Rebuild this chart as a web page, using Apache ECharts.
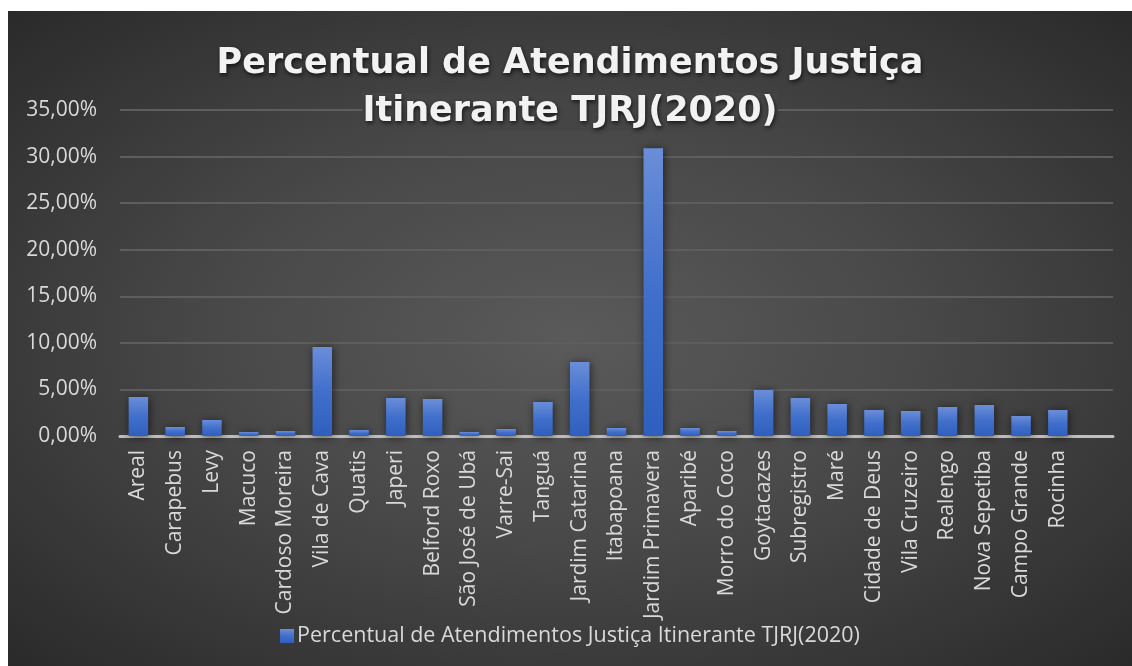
<!DOCTYPE html>
<html>
<head>
<meta charset="utf-8">
<script src="https://cdn.jsdelivr.net/npm/echarts@6/dist/echarts.min.js"></script>
<style>
    html, body { margin: 0; padding: 0; background: #ffffff; }
    #chart {
        position: absolute; left: 8px; top: 11px; width: 1124px; height: 655px;
        background: radial-gradient(ellipse at 50% 50%, #5a5a5a 0%, #484848 45%, #2a2a2a 100%);
    }
</style>
</head>
<body>
<div id="chart"></div>
<script>
// categorias (ultima vazia, como no original)
var cidades = ['Areal', 'Carapebus', 'Levy', 'Macuco', 'Cardoso Moreira', 'Vila de Cava', 'Quatis', 'Japeri',
    'Belford Roxo', 'São José de Ubá', 'Varre-Sai', 'Tanguá', 'Jardim Catarina', 'Itabapoana', 'Jardim Primavera',
    'Aparibé', 'Morro do Coco', 'Goytacazes', 'Subregistro', 'Maré', 'Cidade de Deus', 'Vila Cruzeiro',
    'Realengo', 'Nova Sepetiba', 'Campo Grande', 'Rocinha', ''];
// percentuais (%)
var percentuais = [4.18, 0.97, 1.72, 0.43, 0.54, 9.55, 0.64, 4.08,
    3.97, 0.43, 0.75, 3.65, 7.94, 0.86, 30.9,
    0.86, 0.54, 4.94, 4.08, 3.43, 2.79, 2.68,
    3.11, 3.33, 2.15, 2.79, null];
var nomeSerie = 'Percentual de Atendimentos Justiça Itinerante TJRJ(2020)';
var tituloL1 = 'Percentual de Atendimentos Justiça';
var tituloL2 = 'Itinerante TJRJ(2020)';

var fonte = '"Open Sans", "Noto Sans", sans-serif';
var fonteTitulo = '"DejaVu Sans", "Open Sans", sans-serif';

var estiloTitulo = {
    fontFamily: fonteTitulo,
    fontSize: 35,
    fontWeight: 'bold',
    color: '#f2f2f2',
    lineHeight: 48,
    textShadowColor: 'rgba(0,0,0,0.7)',
    textShadowBlur: 4,
    textShadowOffsetX: 1,
    textShadowOffsetY: 2
};

var chart = echarts.init(document.getElementById('chart'));
var option = {
    backgroundColor: 'transparent',
    title: {
        text: '{a|' + tituloL1 + '}\n{b|' + tituloL2 + '}',
        left: 'center',
        top: 24,
        z: 10,
        textStyle: {
            fontFamily: fonteTitulo,
            fontSize: 35,
            fontWeight: 'bold',
            color: '#f2f2f2',
            rich: {
                a: estiloTitulo,
                b: Object.assign({}, estiloTitulo, { backgroundColor: '#454545', height: 38 })
            }
        }
    },
    legend: {
        data: [nomeSerie],
        left: 'center',
        top: 609,
        itemWidth: 14,
        itemHeight: 14,
        itemGap: 5,
        icon: 'rect',
        textStyle: { fontFamily: fonte, fontSize: 21.5, color: '#d9d9d9', padding: [0, 0, 0, -2] }
    },
    grid: { left: 112, right: 19, top: 99, bottom: 230, containLabel: false },
    xAxis: [{
        type: 'category',
        data: cidades,
        axisLine: { lineStyle: { color: '#bfbfbf', width: 3 } },
        axisTick: { show: false },
        axisLabel: {
            interval: 0,
            rotate: 90,
            margin: 14,
            fontFamily: fonte,
            fontSize: 21,
            color: '#d9d9d9'
        }
    }],
    yAxis: [{
        type: 'value',
        min: 0,
        max: 35,
        interval: 5,
        axisLine: { show: false },
        axisTick: { show: false },
        splitLine: { lineStyle: { color: '#5e5e5e', width: 2 } },
        axisLabel: {
            margin: 23,
            fontFamily: fonte,
            fontSize: 21,
            color: '#d9d9d9',
            formatter: function(v) {
                return v.toFixed(2).replace('.', ',') + '%';
            }
        }
    }],
    series: [{
        name: nomeSerie,
        type: 'bar',
        data: percentuais,
        barCategoryGap: '47%',
        itemStyle: {
            color: new echarts.graphic.LinearGradient(0, 0, 0, 1, [
                { offset: 0, color: '#6a8ed8' },
                { offset: 0.5, color: '#416fcb' },
                { offset: 1, color: '#2f5fbe' }
            ]),
            shadowColor: 'rgba(0,0,0,0.6)',
            shadowBlur: 8,
            shadowOffsetX: 1,
            shadowOffsetY: 1
        }
    }]
};
chart.setOption(option);
</script>
</body>
</html>
